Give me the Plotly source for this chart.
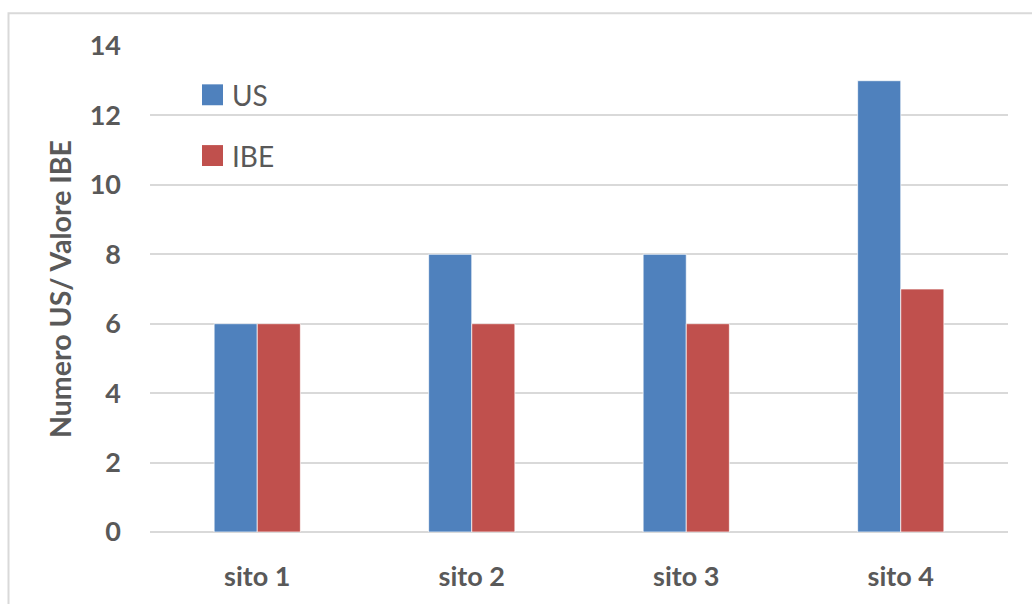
import plotly.graph_objects as go

categories = ["sito 1", "sito 2", "sito 3", "sito 4"]
us_values = [6, 8, 8, 13]
ibe_values = [6, 6, 6, 7]
y_ticks = [0, 2, 4, 6, 8, 10, 12, 14]
series_names = ["US", "IBE"]

BLUE = "#4F81BD"
RED = "#C0504D"
TEXT = "#595959"
GRID = "#D9D9D9"
FONT = "Lato, 'Open Sans', sans-serif"

fig = go.Figure()
for name, vals, col in [(series_names[0], us_values, BLUE), (series_names[1], ibe_values, RED)]:
    fig.add_trace(go.Bar(
        x=categories, y=vals, name=name, showlegend=False,
        marker=dict(color=col, line=dict(color="rgba(255,255,255,0.7)", width=1)),
    ))

W, H = 1032, 604
ml, mr, mt, mb = 150, 24, 46, 70
pw, ph = W - ml - mr, H - mt - mb

def px_x(p):
    return (p - ml) / pw

def px_y(p):
    return (H - mb - p) / ph

# Outer frame plus legend swatches with labels in the upper-left of the plot
shapes = [dict(
    type="rect", xref="paper", yref="paper",
    x0=px_x(8.5), x1=px_x(1045), y0=px_y(620), y1=px_y(13),
    line=dict(color=GRID, width=2), fillcolor="rgba(0,0,0,0)", layer="below",
)]
annotations = []
for i, (name, col) in enumerate(zip(series_names, [BLUE, RED])):
    cy = 95 + i * 61
    shapes.append(dict(
        type="rect", xref="paper", yref="paper",
        x0=px_x(202), x1=px_x(223), y0=px_y(cy + 10.5), y1=px_y(cy - 10.5),
        line=dict(width=0), fillcolor=col,
    ))
    annotations.append(dict(
        xref="paper", yref="paper", x=px_x(230), y=px_y(cy),
        xanchor="left", yanchor="middle", text=name, showarrow=False,
        font=dict(size=28, color=TEXT, family=FONT),
    ))

fig.update_layout(
    width=W, height=H,
    margin=dict(l=ml, r=mr, t=mt, b=mb),
    paper_bgcolor="white", plot_bgcolor="white",
    barmode="group", bargap=0.598, bargroupgap=0,
    font=dict(family=FONT, color=TEXT),
    showlegend=False,
    xaxis=dict(
        showgrid=False, showline=False, zeroline=False, ticks="",
        tickfont=dict(size=27, color=TEXT, family=FONT, weight="bold"),
        ticklabelstandoff=26,
    ),
    yaxis=dict(
        range=[0, 14], tickvals=y_ticks, showgrid=True, gridcolor=GRID, gridwidth=1.5,
        zeroline=True, zerolinecolor=GRID, zerolinewidth=1.5, showline=False, ticks="",
        tickfont=dict(size=27, color=TEXT, family=FONT, weight="bold"),
        ticklabelstandoff=28,
        title=dict(text="Numero US/ Valore IBE", standoff=9,
                   font=dict(size=28.5, color=TEXT, family=FONT, weight="bold")),
    ),
    shapes=shapes,
    annotations=annotations,
)

fig.write_html("out.html")
